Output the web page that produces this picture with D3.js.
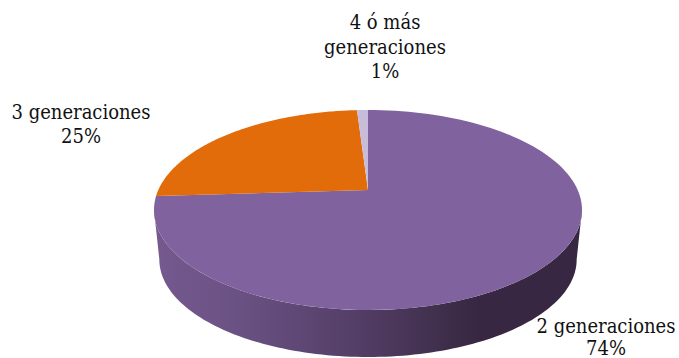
<!DOCTYPE html>
<html><head><meta charset="utf-8">
<script src="https://cdn.jsdelivr.net/npm/d3@7"></script>
<style>html,body{margin:0;padding:0;background:#fff}svg{display:block}</style>
</head><body><div id="c"></div>
<script>
const categories = ["2 generaciones", "3 generaciones", "4 ó más generaciones"];
const values = [74, 25, 1];
const labelLines = [["2 generaciones","74%"],["3 generaciones","25%"],["4 ó más","generaciones","1%"]];
const sliceColors = ["#7f629e", "#e26b0a", "#c7bcda"];
const W = 679, H = 358;
const apex = {x:368, y:190}, k = 0.2, a = 96, b = 209.7, depth = 50, shrink = 0.975;
const svg = d3.select("#c").append("svg").attr("width",W).attr("height",H);

const proj = (ang, r=1, dy=0, s=1) => {
  const u = r*Math.sin(ang), v = r*Math.cos(ang), w = 1 + k*v;
  return [apex.x + s*b*u/w, apex.y - s*a*v/w + dy];
};
const pie = d3.pie().sort(null).value(d=>d)(values);
const line = d3.line();
const samples = (a0,a1,f) => d3.range(0,121).map(i=>f(a0+(a1-a0)*i/120));

const defs = svg.append("defs");
const grad = defs.append("linearGradient").attr("id","side").attr("gradientUnits","userSpaceOnUse")
  .attr("x1",154).attr("x2",582).attr("y1",0).attr("y2",0);
[[0,"#75598f"],[0.2,"#6a5183"],[0.45,"#554069"],[0.68,"#3f2e4b"],[0.76,"#372742"],[1,"#372742"]]
  .forEach(([o,c])=>grad.append("stop").attr("offset",o).attr("stop-color",c));

// side wall: front half of the rim extruded downward
const front0 = Math.PI/2 + 0.2, front1 = 3*Math.PI/2 - 0.2;
const topEdge = samples(front0,front1,t=>proj(t));
const botEdge = samples(front1,front0,t=>proj(t,1,depth,shrink));
svg.append("path").attr("d",line([...topEdge,...botEdge])+"Z").attr("fill","url(#side)");

// top faces
svg.selectAll("path.slice").data(pie).join("path").attr("class","slice")
  .attr("d",d=>line([[apex.x,apex.y],...samples(d.startAngle,d.endAngle,t=>proj(t))])+"Z")
  .attr("fill",(d,i)=>sliceColors[i]);

const labelPos = [[606,333],[81,119],[385,29]];
const lh = [22,24,24.5];
labelLines.forEach((ls,i)=>{
  const t = svg.append("text").attr("text-anchor","middle").attr("fill","#111")
    .attr("font-family","'DejaVu Serif Condensed','DejaVu Serif','Liberation Serif',serif").attr("font-size",20);
  ls.forEach((s,j)=>t.append("tspan").attr("x",labelPos[i][0]).attr("y",labelPos[i][1]+j*lh[i]).text(s));
});
</script></body></html>
